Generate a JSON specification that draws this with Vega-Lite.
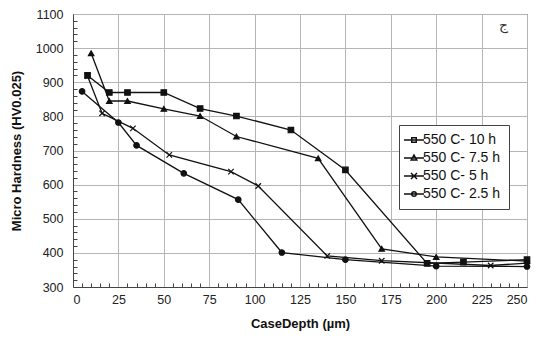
{
  "$schema": "https://vega.github.io/schema/vega-lite/v6.json",
  "width": 454,
  "height": 273,
  "autosize": {"type": "none"},
  "padding": {"left": 73, "top": 14, "right": 11, "bottom": 62},
  "background": "white",
  "config": {
    "font": "Liberation Sans",
    "view": {"stroke": "#444", "strokeWidth": 1},
    "axis": {"labelFont": "Liberation Sans", "titleFont": "Liberation Sans", "labelColor": "#222", "titleColor": "#111"}
  },
  "datasets": {
    "pts": [
      {"series": "550 C- 10 h", "depth": 8, "hardness": 920},
      {"series": "550 C- 10 h", "depth": 20, "hardness": 870},
      {"series": "550 C- 10 h", "depth": 30, "hardness": 870},
      {"series": "550 C- 10 h", "depth": 50, "hardness": 870},
      {"series": "550 C- 10 h", "depth": 70, "hardness": 823},
      {"series": "550 C- 10 h", "depth": 90, "hardness": 801},
      {"series": "550 C- 10 h", "depth": 120, "hardness": 760},
      {"series": "550 C- 10 h", "depth": 150, "hardness": 643},
      {"series": "550 C- 10 h", "depth": 195, "hardness": 369},
      {"series": "550 C- 10 h", "depth": 215, "hardness": 373},
      {"series": "550 C- 10 h", "depth": 250, "hardness": 380},
      {"series": "550 C- 7.5 h", "depth": 10, "hardness": 985},
      {"series": "550 C- 7.5 h", "depth": 20, "hardness": 845},
      {"series": "550 C- 7.5 h", "depth": 30, "hardness": 845},
      {"series": "550 C- 7.5 h", "depth": 50, "hardness": 822},
      {"series": "550 C- 7.5 h", "depth": 70, "hardness": 801},
      {"series": "550 C- 7.5 h", "depth": 90, "hardness": 741},
      {"series": "550 C- 7.5 h", "depth": 135, "hardness": 677},
      {"series": "550 C- 7.5 h", "depth": 170, "hardness": 412},
      {"series": "550 C- 7.5 h", "depth": 200, "hardness": 388},
      {"series": "550 C- 7.5 h", "depth": 250, "hardness": 376},
      {"series": "550 C- 5 h", "depth": 8, "hardness": 918},
      {"series": "550 C- 5 h", "depth": 16, "hardness": 809},
      {"series": "550 C- 5 h", "depth": 33, "hardness": 765},
      {"series": "550 C- 5 h", "depth": 53, "hardness": 687},
      {"series": "550 C- 5 h", "depth": 87, "hardness": 638},
      {"series": "550 C- 5 h", "depth": 102, "hardness": 596},
      {"series": "550 C- 5 h", "depth": 140, "hardness": 391},
      {"series": "550 C- 5 h", "depth": 170, "hardness": 377},
      {"series": "550 C- 5 h", "depth": 230, "hardness": 363},
      {"series": "550 C- 5 h", "depth": 250, "hardness": 370},
      {"series": "550 C- 2.5 h", "depth": 5, "hardness": 873},
      {"series": "550 C- 2.5 h", "depth": 25, "hardness": 782},
      {"series": "550 C- 2.5 h", "depth": 35, "hardness": 715},
      {"series": "550 C- 2.5 h", "depth": 61, "hardness": 633},
      {"series": "550 C- 2.5 h", "depth": 91, "hardness": 556},
      {"series": "550 C- 2.5 h", "depth": 115, "hardness": 401},
      {"series": "550 C- 2.5 h", "depth": 150, "hardness": 380},
      {"series": "550 C- 2.5 h", "depth": 200, "hardness": 361},
      {"series": "550 C- 2.5 h", "depth": 250, "hardness": 360}
    ],
    "tag": [{"label": "ج", "depth": 237, "hardness": 1065}]
  },
  "layer": [
    {
      "data": {"name": "pts"},
      "mark": {"type": "line", "color": "#111", "strokeWidth": 1.3},
      "encoding": {
        "x": {
          "field": "depth", "type": "quantitative",
          "scale": {"domain": [0, 250], "nice": false},
          "axis": {
            "orient": "bottom",
            "values": [0, 25, 50, 75, 100, 125, 150, 175, 200, 225, 250],
            "title": "CaseDepth (µm)", "titleFontSize": 13, "titleFontWeight": "bold", "titlePadding": 12,
            "labelFontSize": 12.5, "labelPadding": 6, "tickSize": 0,
            "domainColor": "#444",
            "grid": true, "gridColor": "#b5b5b5", "gridWidth": 1
          }
        },
        "y": {
          "field": "hardness", "type": "quantitative",
          "scale": {"domain": [300, 1100], "nice": false},
          "axis": {
            "orient": "left", "format": "d",
            "values": [300, 400, 500, 600, 700, 800, 900, 1000, 1100],
            "title": "Micro Hardness (HV0.025)", "titleFontSize": 13, "titleFontWeight": "bold", "titlePadding": 12,
            "labelFontSize": 12.5, "labelPadding": 10, "tickSize": 0,
            "domainColor": "#444",
            "grid": true, "gridColor": "#b5b5b5", "gridWidth": 1
          }
        },
        "detail": {"field": "series"}
      }
    },
    {
      "data": {"name": "pts"},
      "mark": {"type": "point", "filled": true, "color": "#111", "stroke": "#111", "strokeWidth": 1.2, "opacity": 1},
      "encoding": {
        "x": {"field": "depth", "type": "quantitative", "axis": null},
        "y": {"field": "hardness", "type": "quantitative", "axis": null},
        "size": {"value": 30},
        "shape": {
          "field": "series", "type": "nominal",
          "scale": {
            "domain": ["550 C- 10 h", "550 C- 7.5 h", "550 C- 5 h", "550 C- 2.5 h"],
            "range": ["square", "triangle-up", "M-1,-1L1,1M-1,1L1,-1", "circle"]
          },
          "legend": null
        }
      }
    },
    {
      "data": {"name": "pts"},
      "mark": {"type": "point", "filled": false, "color": "#111", "strokeWidth": 1.5, "opacity": 0},
      "encoding": {
        "x": {"field": "depth", "type": "quantitative", "axis": null},
        "y": {"field": "hardness", "type": "quantitative", "axis": null},
        "size": {"value": 64},
        "shape": {
          "field": "series", "type": "nominal",
          "scale": {
            "domain": ["550 C- 10 h", "550 C- 7.5 h", "550 C- 5 h", "550 C- 2.5 h"],
            "range": ["M-2,0H2M-0.45,-0.45H0.45V0.45H-0.45Z", "M-2,0H2M0,-0.6L0.55,0.4H-0.55Z", "M-2,0H2M-0.6,-0.6L0.6,0.6M-0.6,0.6L0.6,-0.6", "M-2,0H2M-0.45,0A0.45,0.45,0,1,0,0.45,0A0.45,0.45,0,1,0,-0.45,0Z"]
          },
          "legend": {
            "title": null,
            "orient": "none", "legendX": 326, "legendY": 111,
            "strokeColor": "#444", "fillColor": "white", "padding": 8,
            "labelFontSize": 14, "labelColor": "#111", "labelOffset": 2,
            "symbolOpacity": 1, "symbolStrokeColor": "#111", "symbolStrokeWidth": 1.5,
            "rowPadding": 4
          }
        }
      }
    },
    {
      "data": {"name": "tag"},
      "mark": {"type": "text", "fontSize": 14, "color": "#333", "font": "DejaVu Sans"},
      "encoding": {
        "x": {"field": "depth", "type": "quantitative",
          "axis": {"orient": "top", "offset": -273, "values": [5,10,15,20,30,35,40,45,55,60,65,70,80,85,90,95,105,110,115,120,130,135,140,145,155,160,165,170,180,185,190,195,205,210,215,220,230,235,240,245],
            "labels": false, "title": null, "grid": false, "domain": false, "ticks": true, "tickSize": 4, "tickColor": "#444", "tickWidth": 1}},
        "y": {"field": "hardness", "type": "quantitative",
          "axis": {"orient": "right", "offset": -454, "values": [320,340,360,380,420,440,460,480,520,540,560,580,620,640,660,680,720,740,760,780,820,840,860,880,920,940,960,980,1020,1040,1060,1080],
            "labels": false, "title": null, "grid": false, "domain": false, "ticks": true, "tickSize": 4, "tickColor": "#444", "tickWidth": 1}},
        "text": {"field": "label"}
      }
    }
  ],
  "resolve": {"axis": {"x": "independent", "y": "independent"}, "scale": {"shape": "independent"}}
}
